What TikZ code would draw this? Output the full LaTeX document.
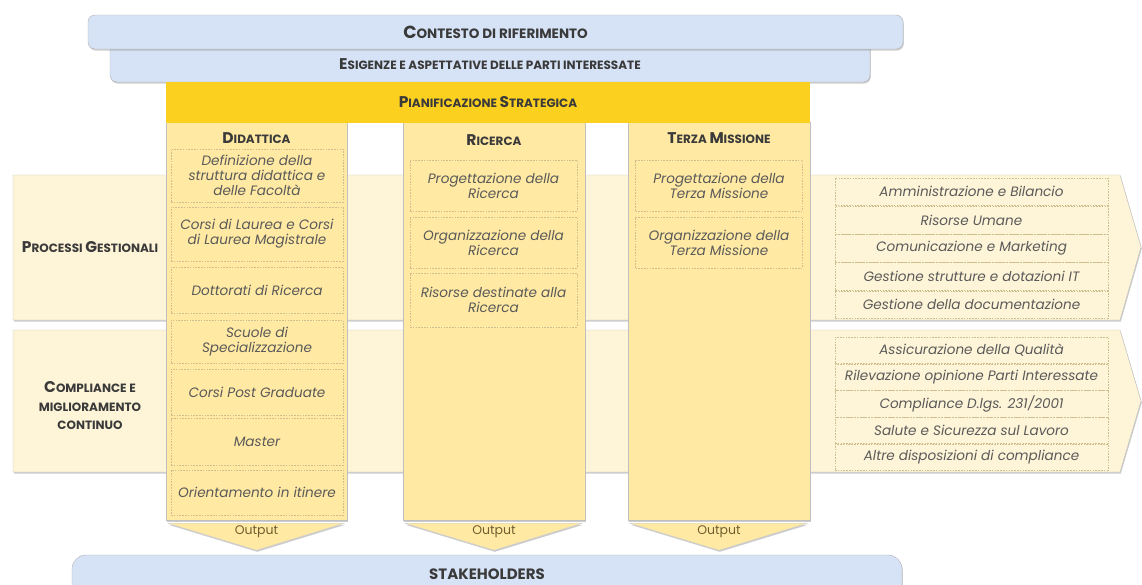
\documentclass[tikz,border=0pt]{standalone}
\usepackage{fontspec}
\setmainfont{Poppins}
\usetikzlibrary{positioning,shadows,calc}

\definecolor{cielo}{HTML}{D6E3F6}
\definecolor{oro}{HTML}{FCD01F}
\definecolor{giallo}{HTML}{FFE9A3}
\definecolor{crema}{HTML}{FEF4D7}
\definecolor{tratto}{HTML}{CDBE8E}
\definecolor{scuro}{HTML}{3A3A3A}
\definecolor{grigio}{HTML}{5A5A5A}
\definecolor{bruno}{HTML}{6E5E2E}

% finto maiuscoletto: iniziale grande
\newcommand\sci[2]{{\fontsize{#1}{#1}\selectfont #2}}
% testo spostato in verticale senza cambiare la scatola
\newcommand\alza[2]{\raisebox{#1}[0pt][0pt]{#2}}

\tikzset{
    ombra/.style={drop shadow={opacity=.4,shadow xshift=.8pt,shadow yshift=-1.6pt}},
    fascia/.style={fill=cielo, draw=black!30, line width=.4pt, rounded corners=7pt, ombra},
    colonna/.style={fill=giallo, draw=black!25, line width=.4pt, ombra},
    banda/.style={fill=crema, draw=black!25, line width=.4pt, ombra},
    voce/.style={draw=tratto, dash pattern=on 1.6pt off 1.2pt, line width=.6pt,
        align=center, text=grigio, inner sep=1pt,
        font=\itshape\fontsize{13.6}{15}\selectfont},
    titolo/.style={text=scuro, align=center, inner sep=0pt,
        font=\bfseries\fontsize{12}{15}\selectfont},
    uscita/.style={fill=giallo, draw=black!20, line width=.3pt, ombra},
}

\begin{document}
\begin{tikzpicture}[x=1pt,y=-1pt]
\useasboundingbox (0,0) rectangle (1142,584);

% bande orizzontali
\draw[banda] (13,175) -- (1120,175) -- (1141,247) -- (1120,320) -- (13,320) -- cycle;
\draw[banda] (13,330) -- (1120,330) -- (1141,401) -- (1120,472) -- (13,472) -- cycle;
\node[titolo] (processi) at (90,247) {\sci{15.5}{P}ROCESSI \sci{15.5}{G}ESTIONALI};
\node[titolo, font=\bfseries\fontsize{12}{18.5}\selectfont] (compliance) at (90,406)
    {\sci{15.5}{C}OMPLIANCE E\\MIGLIORAMENTO\\CONTINUO};

% contesto
\node[fascia, minimum width=760, minimum height=44] (esigenze) at (490,60)
    {\alza{-9.5pt}{\textcolor{scuro}{\bfseries\fontsize{12}{14}\selectfont
     \sci{15.5}{E}SIGENZE E ASPETTATIVE DELLE PARTI INTERESSATE}}};
\node[fascia, minimum width=815, minimum height=34, titolo,
      font=\bfseries\fontsize{13.5}{15}\selectfont] (contesto) at (495.5,32)
    {\sci{17.5}{C}ONTESTO DI RIFERIMENTO};

% colonne
\node[colonna, minimum width=181, minimum height=398] (didattica) at (256.5,321) {};
\node[colonna, minimum width=182, minimum height=398] (ricerca) at (494,321) {};
\node[colonna, minimum width=182, minimum height=398] (terza) at (719,321) {};
\node[fill=oro, minimum width=644, minimum height=41, titolo] (pianif) at (488,102.5)
    {\sci{15.5}{P}IANIFICAZIONE \sci{15.5}{S}TRATEGICA};

\node[titolo] (didT) at (256.5,138) {\sci{15.5}{D}IDATTICA};
\node[titolo] (ricT) at (494,140) {\sci{15.5}{R}ICERCA};
\node[titolo] (terT) at (719,138) {\sci{15.5}{T}ERZA \sci{15.5}{M}ISSIONE};

% didattica
\node[voce, minimum width=172, minimum height=53] (d1) at (257,175.5)
    {Definizione della\\struttura didattica e\\delle Facoltà};
\node[voce, minimum width=172, minimum height=54] (d2) at (257,234)
    {Corsi di Laurea e Corsi\\di Laurea Magistrale};
\node[voce, minimum width=172, minimum height=46] (d3) at (257,290) {Dottorati di Ricerca};
\node[voce, minimum width=172, minimum height=43] (d4) at (257,341.5)
    {Scuole di\\Specializzazione};
\node[voce, minimum width=172, minimum height=46] (d5) at (257,392) {Corsi Post Graduate};
\node[voce, minimum width=172, minimum height=47] (d6) at (257,441.5) {Master};
\node[voce, minimum width=172, minimum height=45] (d7) at (257,492.5) {Orientamento in itinere};

% ricerca
\node[voce, minimum width=167, minimum height=51] (r1) at (493.5,185.5)
    {Progettazione della\\Ricerca};
\node[voce, minimum width=167, minimum height=51] (r2) at (493.5,242.5)
    {Organizzazione della\\Ricerca};
\node[voce, minimum width=167, minimum height=54] (r3) at (493.5,300)
    {Risorse destinate alla\\Ricerca};

% terza missione
\node[voce, minimum width=167, minimum height=51] (t1) at (719,185.5)
    {Progettazione della\\Terza Missione};
\node[voce, minimum width=167, minimum height=51] (t2) at (719,242.5)
    {Organizzazione della\\Terza Missione};

% processi gestionali
\node[voce, minimum width=273, minimum height=27.6] (p1) at (971.5,191.8)
    {Amministrazione e Bilancio};
\node[voce, minimum width=273, minimum height=27.6, below=0pt of p1] (p2) {Risorse Umane};
\node[voce, minimum width=273, minimum height=27.6, below=0pt of p2] (p3) {Comunicazione e Marketing};
\node[voce, minimum width=273, minimum height=27.6, below=0pt of p3] (p4) {Gestione strutture e dotazioni IT};
\node[voce, minimum width=273, minimum height=27.6, below=0pt of p4] (p5) {Gestione della documentazione};

% compliance
\node[voce, minimum width=273, minimum height=26.2] (c1) at (971.5,350.1)
    {Assicurazione della Qualità};
\node[voce, minimum width=273, minimum height=26.2, below=0pt of c1] (c2) {Rilevazione opinione Parti Interessate};
\node[voce, minimum width=273, minimum height=26.2, below=0pt of c2] (c3) {Compliance D.lgs. 231/2001};
\node[voce, minimum width=273, minimum height=26.2, below=0pt of c3] (c4) {Salute e Sicurezza sul Lavoro};
\node[voce, minimum width=273, minimum height=26.2, below=0pt of c4] (c5) {Altre disposizioni di compliance};

% output
\foreach \c in {didattica,ricerca,terza} {
    \draw[uscita] ($(\c.south west)+(2,3)$) -- ($(\c.south east)+(-3,3)$)
        -- ($(\c.south)+(0,30)$) -- cycle;
    \node[text=bruno, font=\fontsize{12.5}{14}\selectfont] (out-\c) at ($(\c.south)+(0,12)$) {Output};
}

% stakeholders
\node[fascia, rounded corners=14pt, minimum width=830, minimum height=60] (stake) at (487,585)
    {\alza{5.5pt}{\textcolor{scuro}{\bfseries\fontsize{15}{17}\selectfont STAKEHOLDERS}}};
\end{tikzpicture}
\end{document}
